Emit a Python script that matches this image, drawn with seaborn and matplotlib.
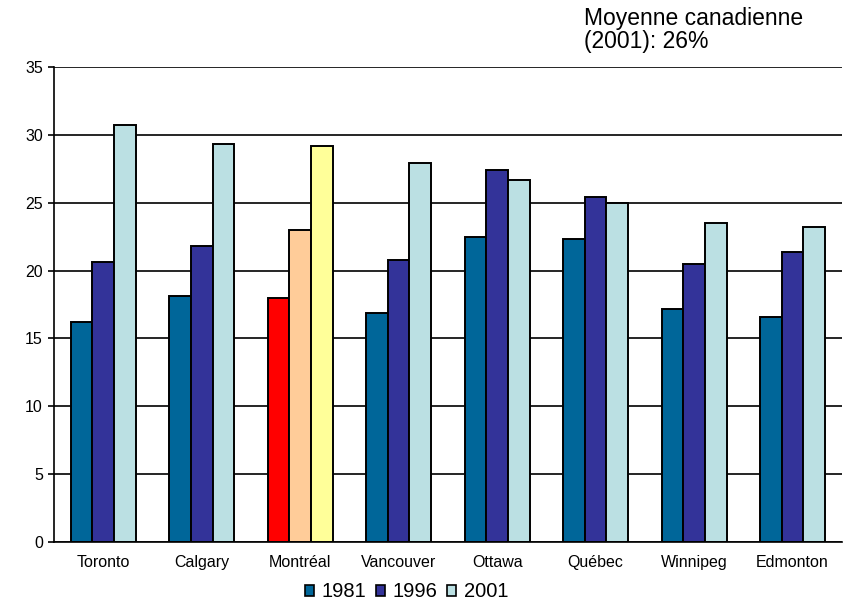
import pandas as pd
import numpy as np
import seaborn as sns
import matplotlib.pyplot as plt
from matplotlib.patches import Patch

cities = ['Toronto', 'Calgary', 'Montréal', 'Vancouver', 'Ottawa', 'Québec', 'Winnipeg', 'Edmonton']
years = ['1981', '1996', '2001']
v1981 = [16.2, 18.1, 18.0, 16.9, 22.5, 22.35, 17.15, 16.6]
v1996 = [20.65, 21.8, 23.0, 20.8, 27.4, 25.4, 20.5, 21.4]
v2001 = [30.7, 29.3, 29.2, 27.95, 26.7, 25.0, 23.5, 23.2]
colors = ['#006699', '#333399', '#BBE0E3']
montreal_colors = ['#FF0000', '#FFCC99', '#FFFF99']

df = pd.DataFrame({
    'ville': cities * 3,
    'annee': [y for y in years for _ in cities],
    'valeur': v1981 + v1996 + v2001,
})

sns.set_style('white')
plt.rcParams['font.family'] = ['Liberation Sans', 'DejaVu Sans']
plt.rcParams['text.color'] = 'black'
plt.rcParams['xtick.color'] = 'black'
plt.rcParams['ytick.color'] = 'black'

fig = plt.figure(figsize=(8.47, 6.01), dpi=100)
ax = fig.add_axes([0.0638, 0.098, 0.930, 0.7905])

sns.barplot(data=df, x='ville', y='valeur', hue='annee', palette=colors, saturation=1,
            width=0.66, edgecolor='black', linewidth=1.4, legend=False, ax=ax)

# Montréal stands out in its own colours
mi = cities.index('Montréal')
for h, cont in enumerate(ax.containers):
    cont[mi].set_facecolor(montreal_colors[h])

ax.set_ylim(0, 35)
ax.set_yticks(np.arange(0, 36, 5))
ax.set_xlim(-0.5, len(cities) - 0.5)
ax.yaxis.grid(True, color='black', linewidth=1.2)
ax.set_axisbelow(True)
for s in ['top', 'right']:
    ax.spines[s].set_visible(False)
for s in ['left', 'bottom']:
    ax.spines[s].set_color('black')
    ax.spines[s].set_linewidth(1.2)

ax.set_xlabel('')
ax.set_ylabel('')
ax.tick_params(axis='x', which='major', length=0, labelsize=11.5, pad=9)
ax.set_xticks(np.arange(-0.5, len(cities), 1), minor=True)
ax.tick_params(axis='x', which='minor', length=4, width=1.2, color='black', direction='out')
ax.tick_params(axis='y', length=4, width=1.2, color='black', direction='out', labelsize=11.5, pad=4, left=True)

handles = [Patch(facecolor=c, edgecolor='black', linewidth=1.2) for c in colors]
fig.legend(handles, years, loc='center', bbox_to_anchor=(0.48, 0.015), ncol=3,
           frameon=False, fontsize=14.5, handlelength=0.45, handleheight=0.45,
           handletextpad=0.4, columnspacing=0.45, borderpad=0)

fig.text(0.689, 0.988, 'Moyenne canadienne\n(2001): 26%', fontsize=16.5,
         ha='left', va='top', linespacing=1.0)

plt.savefig('out.png', dpi=100)
